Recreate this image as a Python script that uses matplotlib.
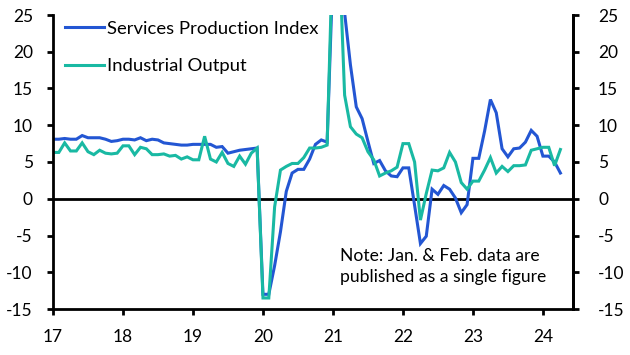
import numpy as np
import matplotlib
matplotlib.use("Agg")
import matplotlib.pyplot as plt

# Monthly data, Jan 2017 - Apr 2024 (% y/y). Jan & Feb published as a single figure.
industrial_output = [
    6.3, 6.3, 7.6, 6.5, 6.5, 7.6, 6.4, 6.0, 6.6, 6.2, 6.1, 6.2,      # 2017
    7.2, 7.2, 6.0, 7.0, 6.8, 6.0, 6.0, 6.1, 5.8, 5.9, 5.4, 5.7,      # 2018
    5.3, 5.3, 8.5, 5.4, 5.0, 6.3, 4.8, 4.4, 5.8, 4.7, 6.2, 6.9,      # 2019
    -13.5, -13.5, -1.1, 3.9, 4.4, 4.8, 4.8, 5.6, 6.9, 6.9, 7.0, 7.3, # 2020
    35.1, 35.1, 14.1, 9.8, 8.8, 8.3, 6.4, 5.3, 3.1, 3.5, 3.8, 4.3,   # 2021
    7.5, 7.5, 5.0, -2.9, 0.7, 3.9, 3.8, 4.2, 6.3, 5.0, 2.2, 1.3,     # 2022
    2.4, 2.4, 3.9, 5.6, 3.5, 4.4, 3.7, 4.5, 4.5, 4.6, 6.6, 6.8,      # 2023
    7.0, 7.0, 4.5, 6.7,                                              # 2024
]
services_production = [
    8.1, 8.1, 8.2, 8.1, 8.1, 8.6, 8.3, 8.3, 8.3, 8.1, 7.8, 7.9,      # 2017
    8.1, 8.1, 8.0, 8.3, 7.9, 8.1, 8.0, 7.6, 7.5, 7.4, 7.3, 7.3,      # 2018
    7.4, 7.4, 7.4, 7.4, 7.0, 7.1, 6.2, 6.4, 6.6, 6.7, 6.8, 6.9,      # 2019
    -13.0, -13.0, -9.1, -4.5, 1.0, 3.5, 4.0, 4.0, 5.4, 7.4, 8.0, 7.7,# 2020
    31.1, 31.1, 25.3, 18.2, 12.5, 10.9, 7.8, 4.8, 5.2, 3.8, 3.1, 3.0,# 2021
    4.2, 4.2, -0.9, -6.1, -5.1, 1.3, 0.6, 1.8, 1.3, 0.1, -1.9, -0.8, # 2022
    5.5, 5.5, 9.2, 13.5, 11.7, 6.8, 5.7, 6.8, 6.9, 7.7, 9.3, 8.5,    # 2023
    5.8, 5.8, 5.0, 3.5,                                              # 2024
]
start_year = 17
x_ticks = [17, 18, 19, 20, 21, 22, 23, 24]
y_ticks = [-15, -10, -5, 0, 5, 10, 15, 20, 25]
labels = ["Services Production Index", "Industrial Output"]
note = "Note: Jan. & Feb. data are\npublished as a single figure"

plt.rcParams["font.family"] = ["Lato", "DejaVu Sans"]
plt.rcParams["axes.unicode_minus"] = False

BLUE = "#2356d3"
TEAL = "#19b9a3"

n = len(services_production)
x = start_year + np.arange(n) / 12.0

fig = plt.figure(figsize=(6.3, 3.55), dpi=100)
ax = fig.add_axes([53 / 630, 1 - 309 / 355, 520 / 630, 294 / 355])

ax.plot(x, services_production, color=BLUE, lw=2.2, label=labels[0], solid_joinstyle="miter")
ax.plot(x, industrial_output, color=TEAL, lw=2.2, label=labels[1], solid_joinstyle="miter")
ax.axhline(0, color="black", lw=2.0, zorder=1)

ax.set_xlim(17, 24.43)
ax.set_ylim(-15, 25)
ax.set_xticks(x_ticks)
ax.set_xticklabels([str(t) for t in x_ticks])
ax.set_yticks(y_ticks)
ax.set_yticklabels([str(t) for t in y_ticks])

for s in ["left", "right", "bottom"]:
    ax.spines[s].set_linewidth(2.0)
ax.spines["top"].set_visible(False)

ax.tick_params(axis="both", direction="out", length=4.5, width=2.0, labelsize=12.5)
ax.tick_params(axis="y", left=True, right=False, labelleft=True, labelright=False, pad=10)
ax.tick_params(axis="x", pad=10)

sec = ax.secondary_yaxis("right")
sec.set_yticks(y_ticks)
sec.set_yticklabels([str(t) for t in y_ticks])
sec.spines["right"].set_linewidth(2.0)
sec.tick_params(axis="y", direction="out", length=4.5, width=2.0, labelsize=12.5, pad=13.5)

leg = ax.legend(loc="upper left", frameon=False, fontsize=13.3, handlelength=2.08,
                handletextpad=0.2, labelspacing=1.15, borderaxespad=0.0,
                bbox_to_anchor=(0.0096, 1.005))

ax.text(0.552, 0.145, note, transform=ax.transAxes, fontsize=12.6, va="center", ha="left",
        linespacing=1.4)

fig.savefig("out.png", dpi=100)
